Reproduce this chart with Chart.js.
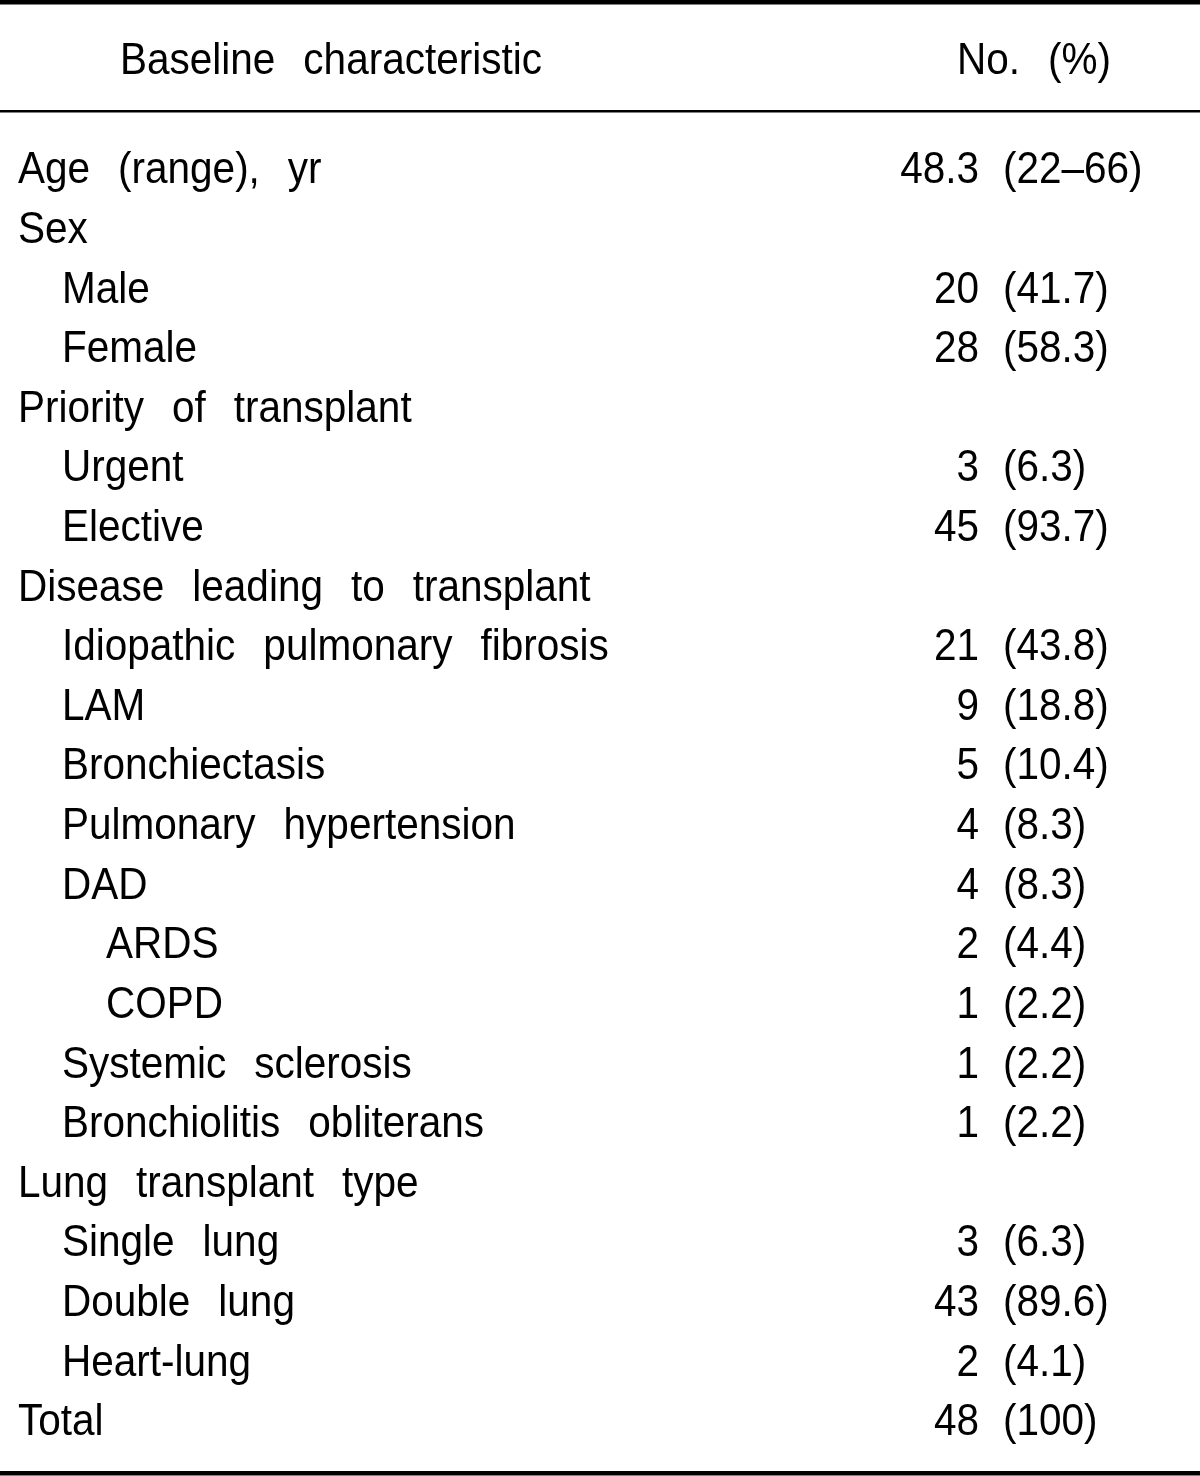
<!DOCTYPE html>
<html>
<head>
<meta charset="utf-8">
<script src="https://cdn.jsdelivr.net/npm/chart.js@4/dist/chart.umd.min.js"></script>
<style>
  html, body { margin: 0; padding: 0; background: #fff; }
  #wrap { position: relative; width: 1200px; height: 1476px; }
</style>
</head>
<body>
<div id="wrap"><canvas id="c"></canvas></div>
<script>
// ---- Data ----
const columnHeaders = ["Baseline characteristic", "No. (%)"];
const characteristics = [
  "Age (range), yr",
  "Sex",
  "Male",
  "Female",
  "Priority of transplant",
  "Urgent",
  "Elective",
  "Disease leading to transplant",
  "Idiopathic pulmonary fibrosis",
  "LAM",
  "Bronchiectasis",
  "Pulmonary hypertension",
  "DAD",
  "ARDS",
  "COPD",
  "Systemic sclerosis",
  "Bronchiolitis obliterans",
  "Lung transplant type",
  "Single lung",
  "Double lung",
  "Heart-lung",
  "Total"
];
const indentLevels = [0,0,1,1,0,1,1,0,1,1,1,1,1,2,2,1,1,0,1,1,1,0];
const counts = ["48.3", "", "20", "28", "", "3", "45", "", "21", "9", "5", "4", "4", "2", "1", "1", "1", "", "3", "43", "2", "48"];
const percents = ["(22\u201366)", "", "(41.7)", "(58.3)", "", "(6.3)", "(93.7)", "", "(43.8)", "(18.8)", "(10.4)", "(8.3)", "(8.3)", "(4.4)", "(2.2)", "(2.2)", "(2.2)", "", "(6.3)", "(89.6)", "(4.1)", "(100)"];
const countValues = counts.map(v => v === "" ? null : parseFloat(v));

// ---- Drawing helpers ----
const FONT = '45px "Liberation Sans", Arial, sans-serif';
const SX = 0.9;        // horizontal condensation of glyphs
const GAP = 28;        // wide word spacing, px

function textWidth(ctx, str) {
  const words = str.split(' ');
  let w = 0;
  words.forEach((wd, i) => { w += ctx.measureText(wd).width * SX; if (i) w += GAP; });
  return w;
}
function drawText(ctx, str, x, y, align) {
  const total = textWidth(ctx, str);
  let cx = align === 'right' ? x - total : x;
  str.split(' ').forEach((wd, i) => {
    ctx.save();
    ctx.translate(cx, y);
    ctx.scale(SX, 1);
    ctx.fillText(wd, 0, 0);
    ctx.restore();
    cx += ctx.measureText(wd).width * SX + GAP;
  });
}

const tablePlugin = {
  id: 'tablePlugin',
  afterDraw(chart) {
    const ctx = chart.ctx;
    const yScale = chart.scales.y;
    const W = chart.width;
    ctx.save();
    ctx.fillStyle = '#000';
    // rules
    ctx.fillRect(0, 0, W, 4.5);
    ctx.fillRect(0, 110, W, 2.5);
    ctx.fillRect(0, 1471, W, 4.5);
    ctx.font = FONT;
    ctx.textBaseline = 'alphabetic';
    // header
    drawText(ctx, columnHeaders[0], 120, 74, 'left');
    drawText(ctx, columnHeaders[1], 957, 74, 'left');
    // rows
    const indentX = [18, 62, 106];
    characteristics.forEach((lab, i) => {
      const yc = yScale.getPixelForValue(i);
      const base = yc + 16;
      drawText(ctx, lab, indentX[indentLevels[i]], base, 'left');
      if (counts[i] !== "") {
        drawText(ctx, counts[i], 979, base, 'right');
        drawText(ctx, percents[i], 1003, base, 'left');
      }
    });
    ctx.restore();
  }
};

new Chart(document.getElementById('c'), {
  type: 'bar',
  data: {
    labels: characteristics,
    datasets: [{
      label: 'No.',
      data: countValues,
      backgroundColor: 'rgba(0,0,0,0)',
      borderWidth: 0
    }]
  },
  options: {
    indexAxis: 'y',
    responsive: true,
    maintainAspectRatio: false,
    animation: false,
    events: [],
    layout: { padding: { top: 137.5, bottom: 26.9, left: 0, right: 0 } },
    plugins: { legend: { display: false }, tooltip: { enabled: false } },
    scales: {
      x: { display: false, min: 0, max: 100 },
      y: { display: false, offset: true }
    }
  },
  plugins: [tablePlugin]
});
</script>
</body>
</html>
